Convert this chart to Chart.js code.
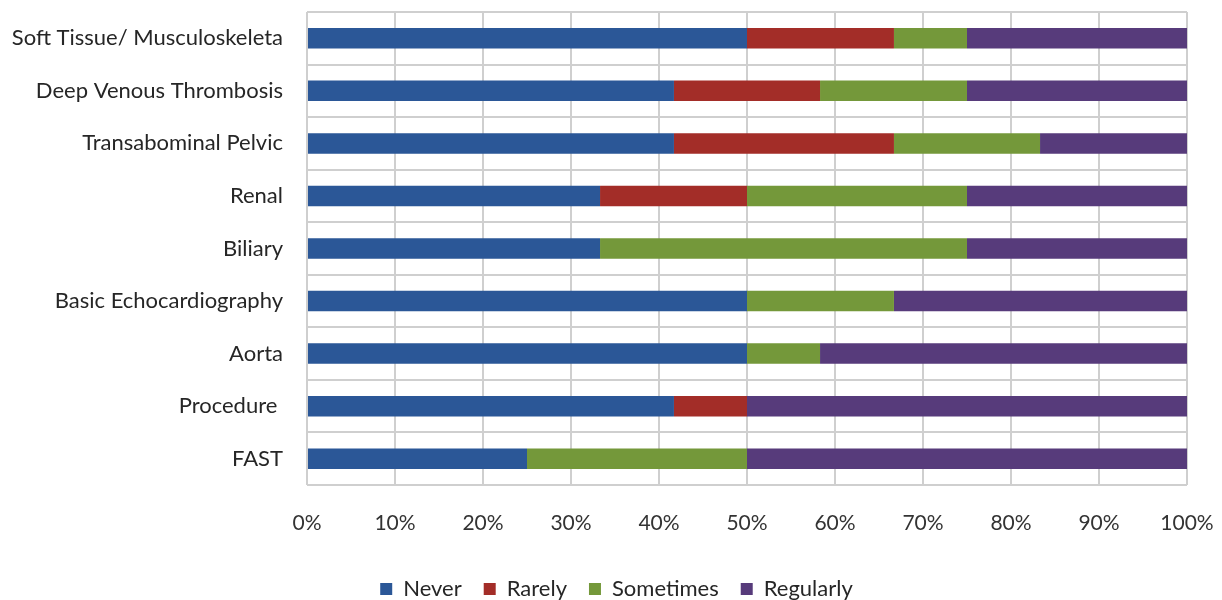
<!DOCTYPE html>
<html><head><meta charset="utf-8">
<script src="https://cdn.jsdelivr.net/npm/chart.js@4/dist/chart.umd.min.js"></script>
<style>html,body{margin:0;padding:0;background:#fff}#wrap{width:1222px;height:600px}</style>
</head><body><div id="wrap"><canvas id="c" width="1222" height="600"></canvas></div>
<script>
const categories = ["Soft Tissue/ Musculoskeleta","Deep Venous Thrombosis","Transabominal Pelvic","Renal","Biliary","Basic Echocardiography","Aorta","Procedure ","FAST"];
const never     = [50.0, 41.7, 41.7, 33.3, 33.3, 50.0, 50.0, 41.7, 25.0];
const rarely    = [16.7, 16.6, 25.0, 16.7, 0,    0,    0,    8.3,  0];
const sometimes = [8.3,  16.7, 16.6, 25.0, 41.7, 16.7, 8.3,  0,    25.0];
const regularly = [25.0, 25.0, 16.7, 25.0, 25.0, 33.3, 41.7, 50.0, 50.0];
const seriesNames = ["Never","Rarely","Sometimes","Regularly"];
const colors = ["#2B5797","#A32D28","#74983A","#573B7B"];
const series = [never, rarely, sometimes, regularly];

const legendShift = {
  id: 'legendShift',
  afterLayout(chart) {
    if (chart.legend) { chart.legend.left += 23; chart.legend.right += 23; }
  }
};

new Chart(document.getElementById('c'), {
  type: 'bar',
  data: {
    labels: categories,
    datasets: series.map((d,i)=>({label: seriesNames[i], data: d, backgroundColor: colors[i], borderWidth: 0, categoryPercentage: 1, barPercentage: 0.39}))
  },
  plugins: [legendShift],
  options: {
    indexAxis: 'y',
    responsive: false,
    animation: false,
    layout: {padding: {top: 12, right: 35, left: 0, bottom: -10}},
    plugins: {
      tooltip: {enabled: false},
      legend: {
        position: 'bottom',
        labels: {font: {family: 'Lato', size: 22}, color: '#262626', boxWidth: 12, boxHeight: 12, padding: 22}
      }
    },
    scales: {
      x: {
        stacked: true, min: 0, max: 100,
        ticks: {stepSize: 10, callback: v => v + '%', font: {family: 'Lato', size: 21}, color: '#333', padding: 26},
        grid: {color: '#cfcfcf', lineWidth: 2, drawTicks: false},
        border: {display: false},
        afterFit: s => { s.height = 71; s.paddingLeft = 0; s.paddingRight = 0; }
      },
      y: {
        stacked: true,
        ticks: {font: {family: 'Lato', size: 22}, color: '#262626', padding: 24},
        grid: {color: '#cfcfcf', lineWidth: 2, drawTicks: false},
        border: {display: false},
        afterFit: s => { s.width = 307; s.paddingTop = 0; s.paddingBottom = 0; }
      }
    }
  }
});
</script></body></html>
